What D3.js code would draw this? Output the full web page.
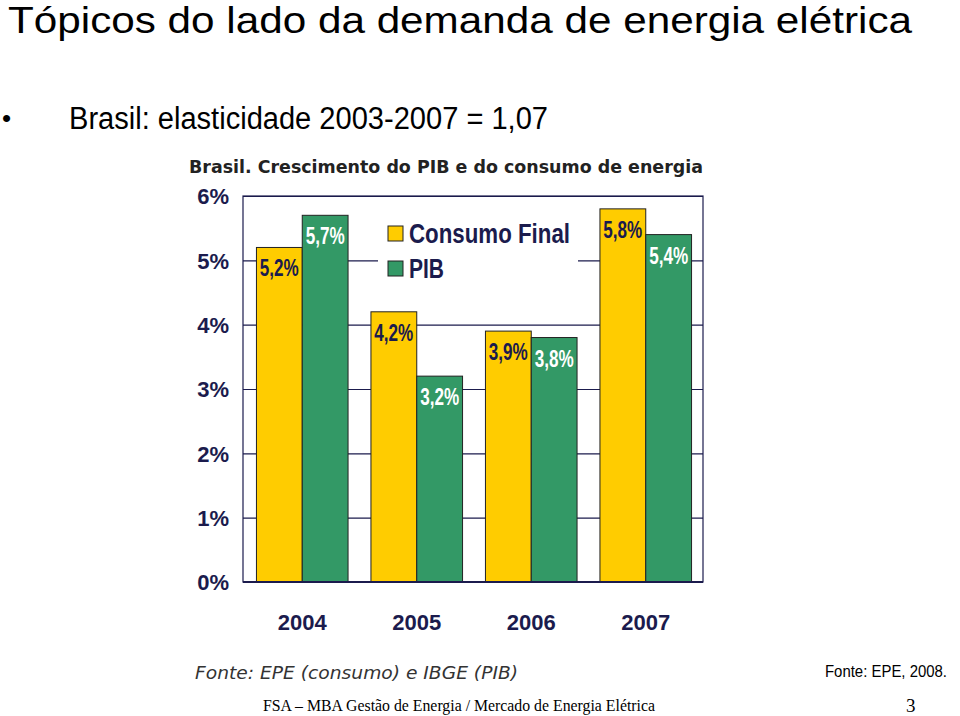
<!DOCTYPE html>
<html><head><meta charset="utf-8">
<script src="https://cdn.jsdelivr.net/npm/d3@7"></script>
<style>body{margin:0;background:#fff}svg{display:block}</style>
</head><body>
<script>
const years = ["2004","2005","2006","2007"];
const seriesNames = ["Consumo Final","PIB"];
const consumo = [5.2, 4.2, 3.9, 5.8];
const pib = [5.7, 3.2, 3.8, 5.4];
const consumoLabels = ["5,2%","4,2%","3,9%","5,8%"];
const pibLabels = ["5,7%","3,2%","3,8%","5,4%"];
const yTicks = [0,1,2,3,4,5,6];

const W = 960, H = 716;
const navy = "#1b1b4d";
const colors = {"Consumo Final":"#FFCC00","PIB":"#339966"};
const svg = d3.select("body").append("svg").attr("width",W).attr("height",H);

// slide texts
svg.append("text").attr("x",8).attr("y",33).attr("font-family","Liberation Sans, Arial").attr("font-size",37)
  .attr("textLength",904).attr("lengthAdjust","spacingAndGlyphs").attr("fill","#000")
  .text("Tópicos do lado da demanda de energia elétrica");
svg.append("text").attr("x",2).attr("y",127).attr("font-family","Liberation Sans, Arial").attr("font-size",26).text("•");
svg.append("text").attr("x",69).attr("y",129).attr("font-family","Liberation Sans, Arial").attr("font-size",31)
  .attr("textLength",479).attr("lengthAdjust","spacingAndGlyphs")
  .text("Brasil: elasticidade 2003-2007 = 1,07");

// chart title
svg.append("text").attr("x",189).attr("y",173).attr("font-family","DejaVu Sans, Verdana").attr("font-weight","bold")
  .attr("font-size",17).attr("fill","#222").attr("textLength",514).attr("lengthAdjust","spacingAndGlyphs")
  .text("Brasil. Crescimento do PIB e do consumo de energia");

const x0 = d3.scaleBand().domain(years).range([245,703]).paddingInner(0.2).paddingOuter(0.1);
const x1 = d3.scaleBand().domain(seriesNames).range([0,x0.bandwidth()]);
const y = d3.scaleLinear().domain([0,6]).range([582,196]);

// gridlines
const grid = svg.append("g").call(d3.axisLeft(y).tickValues(yTicks).tickSize(-(703-243)).tickFormat(""))
  .attr("transform","translate(243,0)");
grid.select(".domain").remove();
grid.selectAll("line").attr("stroke",navy).attr("stroke-width",1.2);

// legend white box
svg.append("rect").attr("x",378).attr("y",214).attr("width",200).attr("height",78).attr("fill","#fff");

// plot border
svg.append("rect").attr("x",243).attr("y",y(6)).attr("width",460).attr("height",y(0)-y(6))
  .attr("fill","none").attr("stroke",navy).attr("stroke-width",1.2);

const data = years.map((yr,i)=>({year:yr, vals:[
  {s:"Consumo Final", v:consumo[i], lab:consumoLabels[i]},
  {s:"PIB", v:pib[i], lab:pibLabels[i]}]}));

const g = svg.selectAll(".grp").data(data).enter().append("g").attr("transform",d=>`translate(${x0(d.year)},0)`);
g.selectAll("rect").data(d=>d.vals).enter().append("rect")
  .attr("x",d=>x1(d.s)).attr("y",d=>y(d.v)).attr("width",x1.bandwidth()).attr("height",d=>y(0)-y(d.v))
  .attr("fill",d=>colors[d.s]).attr("stroke","#222").attr("stroke-width",1);
g.selectAll("text").data(d=>d.vals).enter().append("text")
  .attr("x",d=>x1(d.s)+x1.bandwidth()/2).attr("y",d=>y(d.v)+29)
  .attr("text-anchor","middle").attr("font-family","Liberation Sans, Arial").attr("font-weight","bold")
  .attr("font-size",23).attr("textLength",39).attr("lengthAdjust","spacingAndGlyphs")
  .attr("fill",d=>d.s==="PIB"?"#fff":navy).text(d=>d.lab);

// bottom axis line
svg.append("line").attr("x1",243).attr("x2",703).attr("y1",y(0)).attr("y2",y(0)).attr("stroke",navy).attr("stroke-width",2);

// y tick labels
const ya = svg.append("g").attr("transform","translate(229,0)")
  .call(d3.axisLeft(y).tickValues(yTicks).tickSize(0).tickPadding(0).tickFormat(d=>d+"%"));
ya.select(".domain").remove();
ya.selectAll("text").attr("font-family","Liberation Sans, Arial").attr("font-weight","bold").attr("font-size",22).attr("fill",navy).attr("dy","0.36em");

// x tick labels
const xa = svg.append("g").attr("transform","translate(0,630)")
  .call(d3.axisBottom(x0).tickSize(0).tickPadding(0));
xa.select(".domain").remove();
xa.selectAll("text").attr("font-family","Liberation Sans, Arial").attr("font-weight","bold").attr("font-size",22).attr("fill",navy).attr("dy",0);

// legend
const leg = svg.append("g");
seriesNames.forEach((s,i)=>{
  const yy = 226 + i*35;
  leg.append("rect").attr("x",388).attr("y",yy).attr("width",15).attr("height",15).attr("fill",colors[s]).attr("stroke","#222").attr("stroke-width",1);
  leg.append("text").attr("x",409).attr("y",yy+17).attr("font-family","Liberation Sans, Arial").attr("font-weight","bold")
    .attr("font-size",27).attr("fill",navy).attr("textLength",i===0?161:35).attr("lengthAdjust","spacingAndGlyphs").text(s);
});

// sources and footer
svg.append("text").attr("x",195).attr("y",679).attr("font-family","DejaVu Sans, Verdana").attr("font-style","italic")
  .attr("font-size",17).attr("fill","#333").attr("textLength",323).attr("lengthAdjust","spacingAndGlyphs")
  .text("Fonte: EPE (consumo) e IBGE (PIB)");
svg.append("text").attr("x",825).attr("y",677).attr("font-family","Liberation Sans, Arial").attr("font-size",16)
  .attr("textLength",122).attr("lengthAdjust","spacingAndGlyphs").text("Fonte: EPE, 2008.");
svg.append("text").attr("x",263).attr("y",711).attr("font-family","Liberation Serif, Times New Roman").attr("font-size",17)
  .attr("textLength",392).attr("lengthAdjust","spacingAndGlyphs").text("FSA – MBA Gestão de Energia / Mercado de Energia Elétrica");
svg.append("text").attr("x",906).attr("y",712).attr("font-family","Liberation Serif, Times New Roman").attr("font-size",19).text("3");
</script>
</body></html>
